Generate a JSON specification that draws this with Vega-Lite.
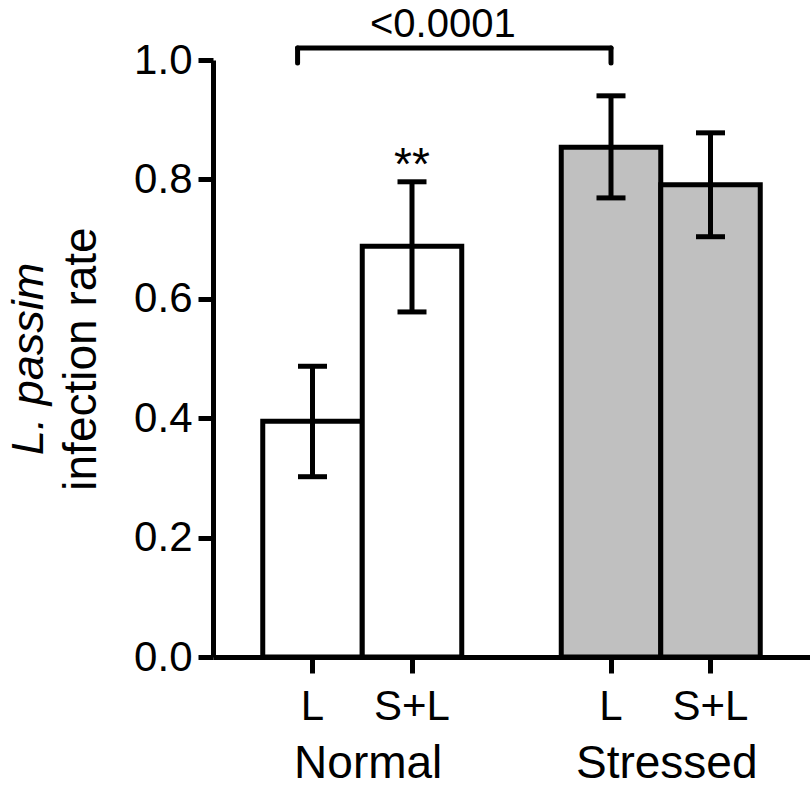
{
  "$schema": "https://vega.github.io/schema/vega-lite/v6.json",
  "autosize": "none",
  "width": 597,
  "height": 597,
  "padding": {"left": 213, "top": 60, "right": 0, "bottom": 130},
  "background": "white",
  "config": {
    "view": {"stroke": null},
    "font": "Liberation Sans",
    "axis": {"grid": false, "domainColor": "black", "tickColor": "black", "labelColor": "black", "titleColor": "black", "labelFont": "Liberation Sans", "titleFont": "Liberation Sans"}
  },
  "datasets": {
    "bars": [
      {"bar": "Normal|L", "group": "Normal", "cond": "L", "rate": 0.395, "lo": 0.302, "hi": 0.487},
      {"bar": "Normal|S+L", "group": "Normal", "cond": "S+L", "rate": 0.688, "lo": 0.578, "hi": 0.796},
      {"bar": "Stressed|L", "group": "Stressed", "cond": "L", "rate": 0.854, "lo": 0.769, "hi": 0.94},
      {"bar": "Stressed|S+L", "group": "Stressed", "cond": "S+L", "rate": 0.791, "lo": 0.704, "hi": 0.878}
    ],
    "groups": [
      {"bar": "Normal|S+L", "label": "Normal"},
      {"bar": "Stressed|S+L", "label": "Stressed"}
    ],
    "sig": [
      {"bar": "Normal|S+L", "y": 0.799, "label": "**"}
    ],
    "pval": [
      {"bar": "Normal|S+L", "y": 1.0385, "label": "<0.0001"}
    ],
    "bracket": [
      {"from": "Normal|L", "to": "Stressed|L", "y": 1.02, "y0": 0.995}
    ]
  },
  "resolve": {"axis": {"y": "independent"}},
  "layer": [
    {
      "data": {"name": "bars"},
      "mark": {"type": "bar", "stroke": "black", "strokeWidth": 5, "strokeJoin": "miter", "opacity": 1},
      "encoding": {
        "x": {
          "field": "bar", "type": "nominal", "title": null,
          "scale": {"domain": ["Normal|L", "Normal|S+L", "gap", "Stressed|L", "Stressed|S+L"], "paddingInner": 0, "paddingOuter": 0.5},
          "axis": {"values": ["Normal|L", "Normal|S+L", "Stressed|L", "Stressed|S+L"], "labelExpr": "split(datum.value, '|')[1]", "labelAngle": 0, "labelFontSize": 42, "labelPadding": 13, "tickSize": 16, "tickWidth": 5, "domainWidth": 5}
        },
        "y": {
          "field": "rate", "type": "quantitative",
          "scale": {"domain": [0, 1], "nice": false},
          "axis": {"orient": "left", "values": [0, 0.2, 0.4, 0.6, 0.8, 1.0], "format": ".1f", "labelFontSize": 42, "labelPadding": 6, "tickSize": 15, "tickWidth": 5, "domainWidth": 5, "title": "infection rate", "titleFontSize": 46, "titleFontWeight": "normal", "titlePadding": 28}
        },
        "fill": {"field": "group", "type": "nominal", "scale": {"domain": ["Normal", "Stressed"], "range": ["white", "#c0c0c0"]}, "legend": null}
      }
    },
    {
      "data": {"name": "bars"},
      "mark": {"type": "rule", "color": "black", "strokeWidth": 5, "opacity": 1},
      "encoding": {
        "x": {"field": "bar", "type": "nominal", "title": null},
        "y": {"field": "lo", "type": "quantitative", "scale": {"domain": [0, 1], "nice": false},
          "axis": {"orient": "left", "labels": false, "ticks": false, "domain": false, "title": "L. passim", "titleFontSize": 45, "titleFontWeight": "normal", "titleFontStyle": "italic", "titlePadding": 162}},
        "y2": {"field": "hi"}
      }
    },
    {
      "data": {"name": "bars"},
      "mark": {"type": "tick", "color": "black", "size": 29, "thickness": 5, "orient": "horizontal", "opacity": 1},
      "encoding": {
        "x": {"field": "bar", "type": "nominal", "title": null},
        "y": {"field": "lo", "type": "quantitative", "scale": {"domain": [0, 1], "nice": false}, "axis": null}
      }
    },
    {
      "data": {"name": "bars"},
      "mark": {"type": "tick", "color": "black", "size": 29, "thickness": 5, "orient": "horizontal", "opacity": 1},
      "encoding": {
        "x": {"field": "bar", "type": "nominal", "title": null},
        "y": {"field": "hi", "type": "quantitative", "scale": {"domain": [0, 1], "nice": false}, "axis": null}
      }
    },
    {
      "data": {"name": "bracket"},
      "mark": {"type": "rule", "color": "black", "strokeWidth": 5, "strokeCap": "round", "opacity": 1},
      "encoding": {
        "x": {"field": "from", "type": "nominal", "title": null, "bandPosition": 0.35},
        "x2": {"field": "to"},
        "y": {"field": "y", "type": "quantitative", "scale": {"domain": [0, 1], "nice": false}, "axis": null}
      }
    },
    {
      "data": {"name": "bracket"},
      "mark": {"type": "rule", "color": "black", "strokeWidth": 5, "strokeCap": "round", "opacity": 1},
      "encoding": {
        "x": {"field": "from", "type": "nominal", "title": null, "bandPosition": 0.35},
        "y": {"field": "y0", "type": "quantitative", "scale": {"domain": [0, 1], "nice": false}, "axis": null},
        "y2": {"field": "y"}
      }
    },
    {
      "data": {"name": "bracket"},
      "mark": {"type": "rule", "color": "black", "strokeWidth": 5, "strokeCap": "round", "opacity": 1},
      "encoding": {
        "x": {"field": "to", "type": "nominal", "title": null},
        "y": {"field": "y0", "type": "quantitative", "scale": {"domain": [0, 1], "nice": false}, "axis": null},
        "y2": {"field": "y"}
      }
    },
    {
      "data": {"name": "sig"},
      "mark": {"type": "text", "fontSize": 46, "baseline": "alphabetic", "align": "center", "color": "black"},
      "encoding": {
        "x": {"field": "bar", "type": "nominal", "title": null},
        "y": {"field": "y", "type": "quantitative", "scale": {"domain": [0, 1], "nice": false}, "axis": null},
        "text": {"field": "label"}
      }
    },
    {
      "data": {"name": "pval"},
      "mark": {"type": "text", "fontSize": 40, "baseline": "alphabetic", "align": "center", "color": "black"},
      "encoding": {
        "x": {"field": "bar", "type": "nominal", "title": null, "bandPosition": 0.81},
        "y": {"field": "y", "type": "quantitative", "scale": {"domain": [0, 1], "nice": false}, "axis": null},
        "text": {"field": "label"}
      }
    },
    {
      "data": {"name": "groups"},
      "mark": {"type": "text", "fontSize": 46, "baseline": "alphabetic", "align": "center", "color": "black", "dy": 121},
      "encoding": {
        "x": {"field": "bar", "type": "nominal", "title": null, "bandPosition": 0.06},
        "y": {"datum": 0, "type": "quantitative", "scale": {"domain": [0, 1], "nice": false}, "axis": null},
        "text": {"field": "label"}
      }
    }
  ]
}
